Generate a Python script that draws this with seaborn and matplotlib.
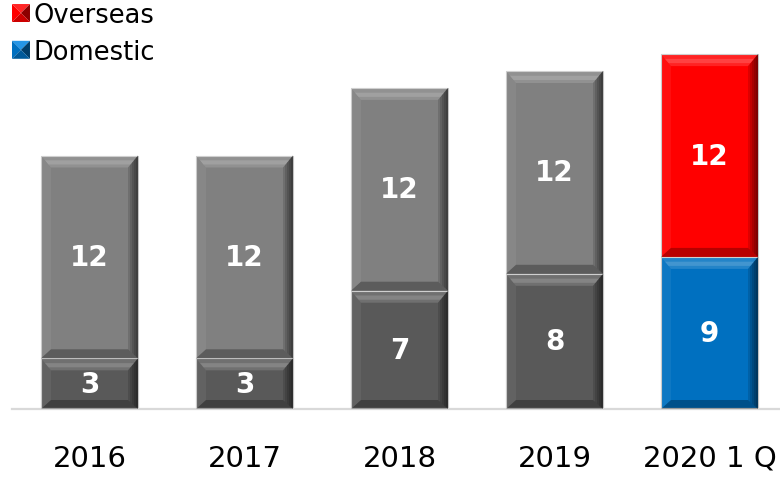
import matplotlib
matplotlib.use("Agg")
import matplotlib.pyplot as plt
import matplotlib.colors as mcolors
import seaborn as sns
import pandas as pd
from matplotlib.patches import Polygon, Patch
from matplotlib.legend_handler import HandlerBase

# Data
years = ["2016", "2017", "2018", "2019", "2020 1 Q"]
domestic = [3, 3, 7, 8, 9]
overseas = [12, 12, 12, 12, 12]
bottom_colors = ["#595959", "#595959", "#595959", "#595959", "#0070C0"]
top_colors = ["#808080", "#808080", "#808080", "#808080", "#FF0000"]
legend_labels = ["Overseas", "Domestic"]
legend_colors = ["#FF0000", "#0070C0"]

sns.set_theme(style="white")
plt.rcParams["font.family"] = ["DejaVu Sans"]

W, H = 780, 481
YMAX = 24
fig = plt.figure(figsize=(W / 100, H / 100), dpi=100)
ax_w_px, ax_h_px = 775, YMAX * 16.9
ax = fig.add_axes([12 / W, (H - 410) / H, ax_w_px / W, ax_h_px / H])

df = pd.DataFrame({"year": years, "domestic": domestic, "overseas": overseas})
df["total"] = df["domestic"] + df["overseas"]

bar_w = 0.626
common = dict(x="year", hue="year", width=bar_w, legend=False, ax=ax,
              saturation=1, edgecolor="#c8c8c8", linewidth=0.8, errorbar=None)
sns.barplot(data=df, y="total", palette=top_colors, **common)
sns.barplot(data=df, y="domestic", palette=bottom_colors, **common)

ax.set_xlim(-0.5, 4.5)
ax.set_ylim(0, YMAX)

# pixel -> data conversions for the bevel
px_x = 5.0 / ax_w_px
px_y = YMAX / ax_h_px


def bevel(x0, y0, x1, y1):
    bx = 10 * px_x
    bt = 12 * px_y
    bb = 9 * px_y
    # top highlight
    ax.add_patch(Polygon([(x0, y1), (x1, y1), (x1 - bx, y1 - bt), (x0 + bx, y1 - bt)],
                         closed=True, facecolor="white", alpha=0.14, lw=0, zorder=3))
    ax.add_patch(Polygon([(x0 + 0.4 * bx, y1 - 0.4 * bt), (x1 - 0.4 * bx, y1 - 0.4 * bt),
                          (x1 - 0.75 * bx, y1 - 0.75 * bt), (x0 + 0.75 * bx, y1 - 0.75 * bt)],
                         closed=True, facecolor="white", alpha=0.14, lw=0, zorder=3))
    # bottom shade
    ax.add_patch(Polygon([(x0, y0), (x1, y0), (x1 - bx, y0 + bb), (x0 + bx, y0 + bb)],
                         closed=True, facecolor="black", alpha=0.28, lw=0, zorder=3))
    # left edge
    ax.add_patch(Polygon([(x0, y0), (x0, y1), (x0 + bx, y1 - bt), (x0 + bx, y0 + bb)],
                         closed=True, facecolor="white", alpha=0.06, lw=0, zorder=3))
    # right edge, darkening toward the border
    for k in range(5):
        f = 1 - k * 0.2
        ax.add_patch(Polygon([(x1, y0), (x1, y1), (x1 - f * bx, y1 - f * bt),
                              (x1 - f * bx, y0 + f * bb)],
                             closed=True, facecolor="black", alpha=0.13, lw=0, zorder=3))


bots = ax.patches[5:10]
for i in range(5):
    x0 = bots[i].get_x()
    x1 = x0 + bots[i].get_width()
    d = domestic[i]
    t = d + overseas[i]
    bevel(x0, 0, x1, d)
    bevel(x0, d, x1, t)
    ax.text(i, d / 2, str(domestic[i]), ha="center", va="center", color="white",
            fontsize=20, fontweight="bold", zorder=5)
    ax.text(i, d + overseas[i] / 2, str(overseas[i]), ha="center", va="center",
            color="white", fontsize=20, fontweight="bold", zorder=5)

# axes styling
for s in ["top", "right", "left"]:
    ax.spines[s].set_visible(False)
ax.spines["bottom"].set_color("#d9d9d9")
ax.spines["bottom"].set_linewidth(1.6)
ax.set_yticks([])
ax.set_xlabel("")
ax.set_ylabel("")
ax.set_xticks(range(5))
ax.set_xticklabels(years)
ax.tick_params(axis="x", which="major", length=0, pad=25, labelsize=21, labelcolor="black")
ax.set_xticks([i - 0.5 for i in range(6)], minor=True)
ax.tick_params(axis="x", which="minor", direction="in", length=7.5, width=1.0,
               color="#d9d9d9")


class BevelSquare(HandlerBase):
    def create_artists(self, legend, orig_handle, xdescent, ydescent, width, height,
                       fontsize, trans):
        s = min(width, height)
        x0 = -xdescent
        y0 = -ydescent + (height - s) / 2
        x1, y1 = x0 + s, y0 + s
        cx, cy = (x0 + x1) / 2, (y0 + y1) / 2
        base = mcolors.to_rgb(orig_handle.get_facecolor())
        light = tuple(min(1, c + 0.15) for c in base)
        dark = tuple(c * 0.55 for c in base)
        mid = tuple(c * 0.8 for c in base)
        tris = [
            ([(x0, y1), (x1, y1), (cx, cy)], light),
            ([(x0, y0), (x0, y1), (cx, cy)], base),
            ([(x1, y0), (x1, y1), (cx, cy)], dark),
            ([(x0, y0), (x1, y0), (cx, cy)], mid),
        ]
        return [Polygon(pts, closed=True, facecolor=col, lw=0, transform=trans)
                for pts, col in tris]


handles = [Patch(facecolor=c) for c in legend_colors]
leg = fig.legend(handles, legend_labels, loc="upper left",
                 bbox_to_anchor=(12 / W, 1 - 3 / H),
                 frameon=False, fontsize=18.5, handlelength=0.7, handleheight=0.7,
                 handletextpad=0.15, labelspacing=0.42, borderpad=0, borderaxespad=0,
                 handler_map={Patch: BevelSquare()})
for t in leg.get_texts():
    t.set_color("black")

fig.savefig("out.png", dpi=100)
